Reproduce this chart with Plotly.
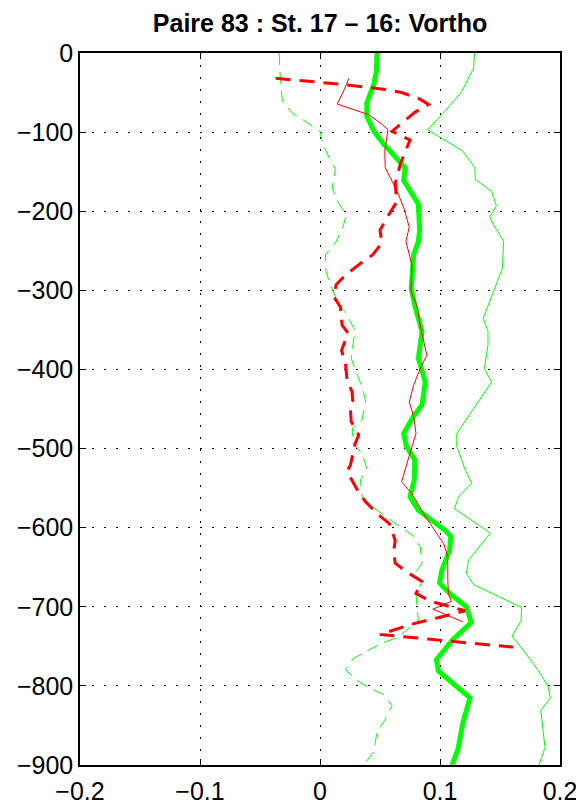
import plotly.graph_objects as go

title_text = "Paire 83 : St. 17 – 16: Vortho"

x_ticks = [-0.2, -0.1, 0, 0.1, 0.2]
x_tick_labels = ["−0.2", "−0.1", "0", "0.1", "0.2"]
y_ticks = [0, -100, -200, -300, -400, -500, -600, -700, -800, -900]
y_tick_labels = ["0", "−100", "−200", "−300", "−400", "−500", "−600", "−700", "−800", "−900"]

# thick green solid (mean)
mean_depth = [0, -23, -40, -63, -80, -99, -115, -128, -145, -161, -191, -224, -238, -255,
              -281, -297, -319, -352, -369, -386, -416, -445, -459, -481, -497, -514, -540,
              -561, -578, -603, -611, -628, -654, -670, -683, -700, -720, -741, -767, -781,
              -815, -847, -880, -900]
mean_val = [0.0475, 0.047, 0.0447, 0.039, 0.039, 0.045, 0.053, 0.061, 0.071, 0.0697, 0.082,
            0.083, 0.082, 0.078, 0.0766, 0.076, 0.079, 0.085, 0.0835, 0.082, 0.0877, 0.085,
            0.078, 0.0697, 0.072, 0.079, 0.0785, 0.075, 0.082, 0.104, 0.109, 0.108, 0.1015,
            0.0996, 0.108, 0.122, 0.126, 0.111, 0.097, 0.0986, 0.125, 0.119, 0.115, 0.110]

# thin green solid (upper)
upper_depth = [0, -19, -49, -74, -97, -124, -145, -160, -175, -193, -207, -217, -238, -272,
               -302, -335, -352, -369, -399, -416, -445, -481, -497, -527, -544, -561, -576,
               -593, -607, -641, -658, -672, -701, -718, -737, -752, -781, -800, -815, -831,
               -861, -878, -900]
upper_val = [0.1287, 0.128, 0.118, 0.104, 0.0896, 0.119, 0.129, 0.1295, 0.143, 0.147, 0.1415,
             0.1445, 0.153, 0.152, 0.1445, 0.136, 0.140, 0.140, 0.137, 0.143, 0.130, 0.114,
             0.114, 0.121, 0.1265, 0.1155, 0.112, 0.129, 0.142, 0.1237, 0.122, 0.128, 0.168,
             0.1675, 0.160, 0.168, 0.182, 0.190, 0.192, 0.184, 0.186, 0.1875, 0.1825]

# thin green dashed (lower)
lower_depth = [0, -23, -61, -76, -86, -99, -115, -136, -147, -170, -187, -205, -220, -240,
               -255, -276, -293, -319, -327, -352, -363, -386, -403, -424, -440, -464, -474,
               -493, -506, -525, -540, -561, -573, -586, -597, -609, -624, -645, -658, -668,
               -684, -697, -718, -739, -746, -756, -765, -779, -792, -802, -811, -825, -842,
               -859, -884, -900]
lower_val = [-0.034, -0.0334, -0.0314, -0.023, -0.0126, 0.0, 0.0024, 0.0087, 0.0129, 0.0101,
             0.0143, 0.022, 0.019, 0.0129, 0.0046, 0.005, 0.0087, 0.0157, 0.021, 0.0295, 0.028,
             0.026, 0.030, 0.0356, 0.038, 0.035, 0.027, 0.027, 0.035, 0.039, 0.0337, 0.035,
             0.043, 0.0544, 0.065, 0.0766, 0.0835, 0.085, 0.079, 0.085, 0.080, 0.0807, 0.082,
             0.064, 0.0516, 0.039, 0.028, 0.0212, 0.0295, 0.0405, 0.053, 0.060, 0.0544, 0.0475,
             0.0447, 0.036]

# thin red solid
red_depth = [-32, -46, -64.5, -78, -90, -97, -124, -145, -174, -195, -220, -238, -268, -302,
             -319, -348, -382, -399, -420, -441, -459, -481, -506, -542, -557, -586, -620,
             -637, -666, -683, -693, -703, -719]
red_val = [0.024, 0.0204, 0.0143, 0.0406, 0.0516, 0.0566, 0.054, 0.0544, 0.064, 0.0697, 0.0744,
           0.0716, 0.0766, 0.0758, 0.0807, 0.084, 0.089, 0.0835, 0.078, 0.0744, 0.078, 0.080,
           0.075, 0.068, 0.0766, 0.0877, 0.103, 0.1065, 0.1065, 0.107, 0.1095, 0.094, 0.119]

# thick red dashed
redd_depth = [-32, -40, -46, -50, -58, -65, -75, -99, -110, -140, -165, -188, -205, -224,
              -240, -255, -266, -281, -293, -308, -321, -344, -354, -376, -390, -414, -428,
              -440, -449, -466, -483, -493, -521, -529, -552, -567, -584, -595, -616, -630,
              -645, -656, -668, -683, -693, -705, -712, -722, -735, -751]
redd_val = [-0.037, 0.021, 0.0544, 0.068, 0.083, 0.0905, 0.079, 0.060, 0.075, 0.067, 0.0627,
            0.064, 0.057, 0.050, 0.0516, 0.044, 0.0337, 0.021, 0.0134, 0.0115, 0.017, 0.0184,
            0.0234, 0.0179, 0.021, 0.0226, 0.0267, 0.0273, 0.0253, 0.026, 0.0323, 0.0295,
            0.0253, 0.0226, 0.031, 0.0378, 0.0489, 0.0578, 0.0627, 0.0613, 0.0627, 0.0724,
            0.085, 0.080, 0.092, 0.121, 0.103, 0.0765, 0.050, 0.161]

GREEN = "#00ff00"
RED = "#ff0000"
FONT = "Liberation Sans"

fig = go.Figure()
fig.add_trace(go.Scatter(x=lower_val, y=lower_depth, mode="lines",
                         line=dict(color=GREEN, width=1, dash="12px,7px")))
fig.add_trace(go.Scatter(x=upper_val, y=upper_depth, mode="lines",
                         line=dict(color=GREEN, width=1)))
fig.add_trace(go.Scatter(x=mean_val, y=mean_depth, mode="lines",
                         line=dict(color=GREEN, width=5)))
fig.add_trace(go.Scatter(x=red_val, y=red_depth, mode="lines",
                         line=dict(color=RED, width=1)))
fig.add_trace(go.Scatter(x=redd_val, y=redd_depth, mode="lines",
                         line=dict(color=RED, width=3, dash="15px,9px")))

axis_common = dict(
    ticks="inside", ticklen=6, tickwidth=1, tickcolor="black",
    showline=True, linecolor="black", linewidth=1.5, mirror="ticks",
    showgrid=True, gridcolor="black", gridwidth=1, griddash="2px,10px",
    zeroline=False, automargin=False,
    tickfont=dict(family=FONT, size=25, color="black"),
)

# the page body adds an 8px offset; margins compensate for it
fig.update_layout(
    width=584, height=806,
    margin=dict(l=72, r=32, t=45, b=49),
    paper_bgcolor="white", plot_bgcolor="white",
    showlegend=False,
    title=dict(text=title_text, x=0.5, xref="paper", xanchor="center",
               y=1 - 15 / 806, yref="container", yanchor="middle",
               font=dict(family=FONT, size=25, color="black", weight="bold")),
    xaxis=dict(range=[-0.2, 0.2], tickvals=x_ticks, ticktext=x_tick_labels,
               ticklabelstandoff=3, **axis_common),
    yaxis=dict(range=[-900, 0], tickvals=y_ticks, ticktext=y_tick_labels,
               ticklabelstandoff=0, **axis_common),
)

fig.write_html("out.html")
